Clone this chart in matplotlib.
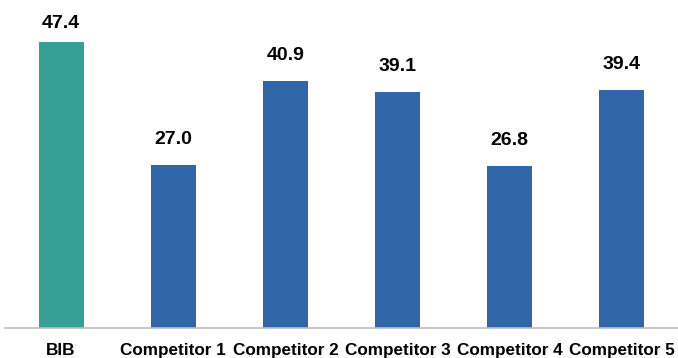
import matplotlib.pyplot as plt

categories = ["BIB", "Competitor 1", "Competitor 2", "Competitor 3", "Competitor 4", "Competitor 5"]
values = [47.4, 27.0, 40.9, 39.1, 26.8, 39.4]
colors = ["#36A097", "#2F67A9", "#2F67A9", "#2F67A9", "#2F67A9", "#2F67A9"]

plt.rcParams["font.family"] = ["Liberation Sans", "DejaVu Sans"]

fig = plt.figure(figsize=(6.78, 3.58), dpi=100)
ax = fig.add_axes([5 / 678, 30 / 358, 673 / 678, 328 / 358])

x = range(len(categories))
ax.bar(x, values, width=0.4, color=colors)

# labels sit above the bars, but the tallest one is pushed down to stay inside the plot
for i, v in enumerate(values):
    ax.text(i, min(v + 3.6, 49.8), f"{v:.1f}", ha="center", va="baseline",
            fontsize=14, fontweight="bold")

ax.set_xlim(-0.5, 5.5)
ax.set_ylim(0, 54.4)
ax.set_xticks(list(x))
ax.set_xticklabels(categories, fontsize=12.3, fontweight="bold")
ax.tick_params(axis="x", length=0, pad=10.5)
ax.set_yticks([])
for s in ["top", "right", "left"]:
    ax.spines[s].set_visible(False)
ax.spines["bottom"].set_color("#BFBFBF")
ax.spines["bottom"].set_linewidth(1.2)

fig.savefig("out.png", dpi=100)
